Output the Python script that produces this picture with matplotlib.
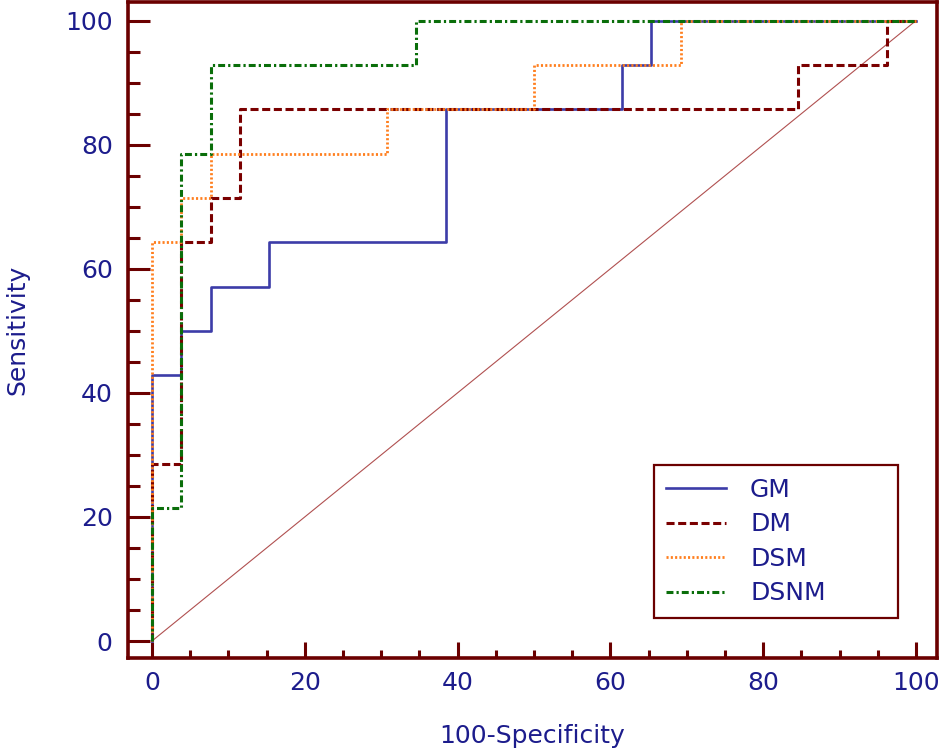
import matplotlib
matplotlib.use("Agg")
import matplotlib.pyplot as plt
from matplotlib.ticker import MultipleLocator

# ROC operating points (100-Specificity, Sensitivity)
gm_x = [0, 0, 3.85, 3.85, 7.69, 7.69, 15.38, 15.38, 38.46, 38.46, 61.54, 61.54, 65.38, 65.38, 100]
gm_y = [0, 42.86, 42.86, 50, 50, 57.14, 57.14, 64.29, 64.29, 85.71, 85.71, 92.86, 92.86, 100, 100]

dm_x = [0, 0, 3.85, 3.85, 7.69, 7.69, 11.54, 11.54, 84.62, 84.62, 96.15, 96.15, 100]
dm_y = [0, 28.57, 28.57, 64.29, 64.29, 71.43, 71.43, 85.71, 85.71, 92.86, 92.86, 100, 100]

dsm_x = [0, 0, 3.85, 3.85, 7.69, 7.69, 30.77, 30.77, 50, 50, 69.23, 69.23, 100]
dsm_y = [0, 64.29, 64.29, 71.43, 71.43, 78.57, 78.57, 85.71, 85.71, 92.86, 92.86, 100, 100]

dsnm_x = [0, 0, 3.85, 3.85, 7.69, 7.69, 34.62, 34.62, 100]
dsnm_y = [0, 21.43, 21.43, 78.57, 78.57, 92.86, 92.86, 100, 100]

ref_x = [0, 100]
ref_y = [0, 100]

ticks = [0, 20, 40, 60, 80, 100]

frame = "#6b0000"
navy = "#1c1c8c"

plt.rcParams["font.family"] = ["DejaVu Sans"]
plt.rcParams["lines.scale_dashes"] = False

fig = plt.figure(figsize=(9.44, 7.53), dpi=100)
ax = fig.add_axes([128 / 944, 1 - 658 / 753, 809 / 944, 656 / 753])

ax.plot(ref_x, ref_y, color="#b05050", lw=0.8)
ax.plot(gm_x, gm_y, color="#3c3ca8", lw=1.9, label="GM")
ax.plot(dm_x, dm_y, color="#7a0000", lw=2.2, dashes=(5.8, 2.6), label="DM")
ax.plot(dsm_x, dsm_y, color="#ff7f1e", lw=2.0, dashes=(1.5, 1.6), label="DSM")
ax.plot(dsnm_x, dsnm_y, color="#0a6e0a", lw=2.2, dashes=(5.0, 2.2, 1.6, 2.2), label="DSNM")

ax.set_xlim(-3.14, 102.75)
ax.set_ylim(-2.74, 103.0)
ax.set_xticks(ticks)
ax.set_yticks(ticks)
ax.xaxis.set_minor_locator(MultipleLocator(5))
ax.yaxis.set_minor_locator(MultipleLocator(5))

for s in ax.spines.values():
    s.set_color(frame)
    s.set_linewidth(2.6)

ax.tick_params(axis="both", which="both", direction="in", color=frame,
               labelcolor=navy, labelsize=18, width=2.2)
ax.tick_params(axis="x", which="major", length=11.5, pad=9)
ax.tick_params(axis="x", which="minor", length=5.8)
ax.tick_params(axis="y", which="major", length=15.8, pad=11)
ax.tick_params(axis="y", which="minor", length=8.6)

ax.set_xlabel("100-Specificity", fontsize=18, color=navy, labelpad=21)
ax.set_ylabel("Sensitivity", fontsize=18, color=navy, labelpad=26)

leg = ax.legend(loc="lower left", bbox_to_anchor=(0.650, 0.061, 0.3016, 0.2), mode="expand",
                borderaxespad=0, fontsize=18, handlelength=2.4, handletextpad=0.95,
                labelspacing=0.42, borderpad=0.5, fancybox=False, framealpha=1)
leg.get_frame().set_edgecolor(frame)
leg.get_frame().set_linewidth(1.6)
for t in leg.get_texts():
    t.set_color(navy)

fig.savefig("out.png", dpi=100)
